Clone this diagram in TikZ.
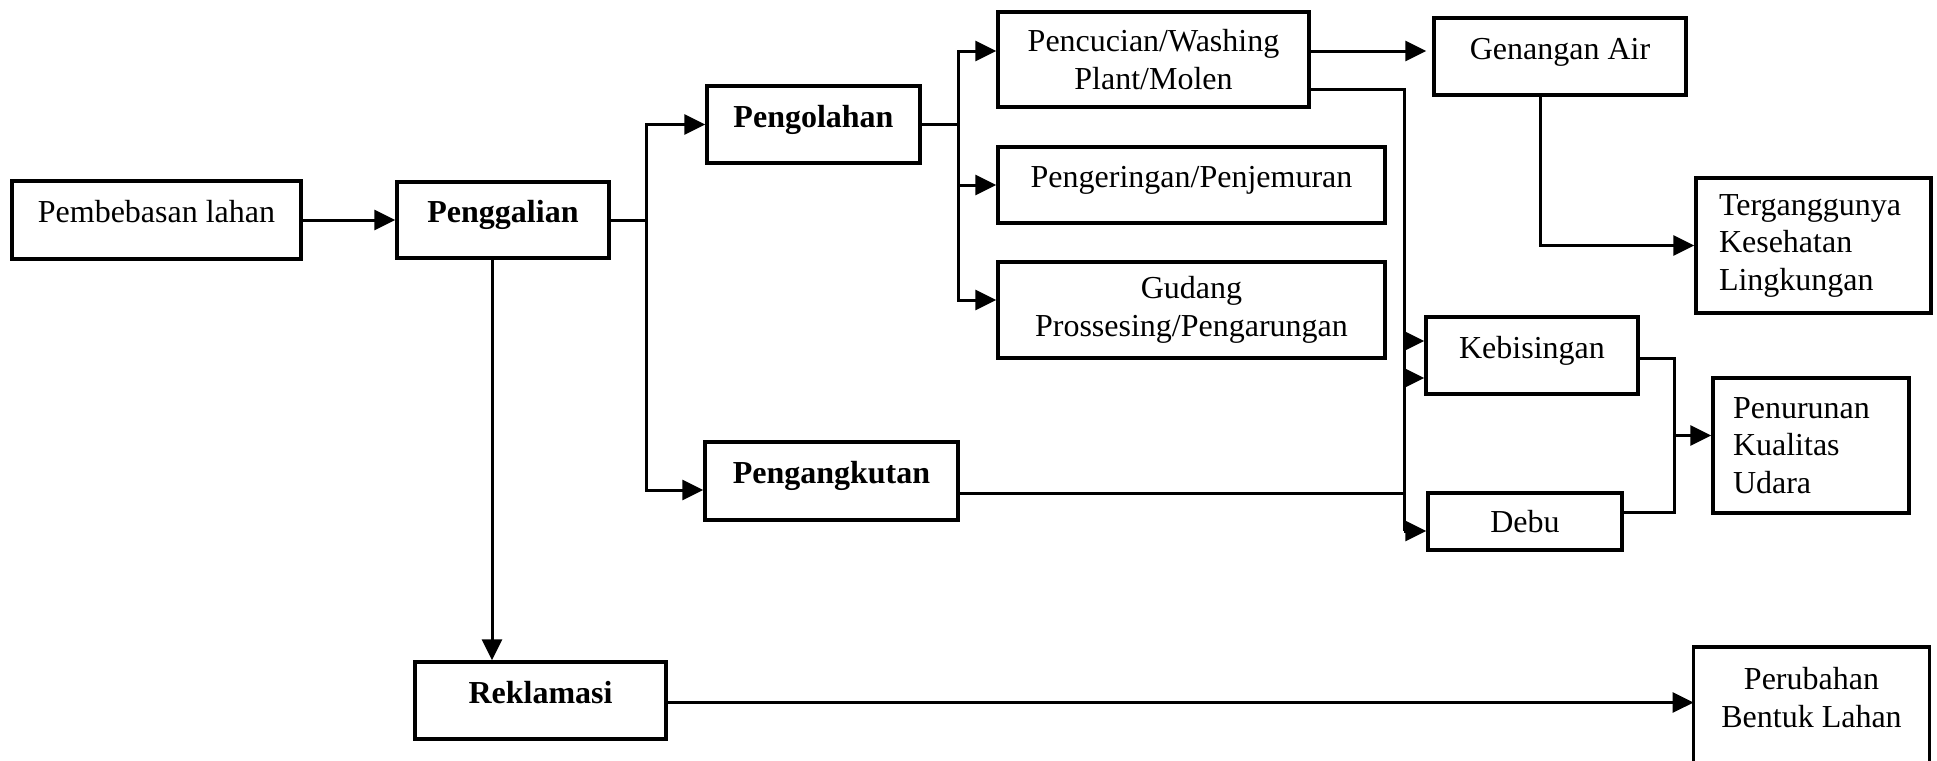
\documentclass[tikz,border=0pt]{standalone}
\usepackage{fontspec}
\setmainfont{Liberation Serif}
\usetikzlibrary{arrows.meta,calc}

\begin{document}
\begin{tikzpicture}[x=0.5pt,y=-0.5pt,
  every node/.style={font=\fontsize{16}{18.75}\selectfont},
  box/.style={draw, line width=1.7pt, inner sep=0pt, align=center},
  oneline/.style={text height=11pt, text depth=8.4pt},
  ln/.style={line width=1.5pt},
  arr/.style={ln, -{Triangle[length=10.5pt,width=10pt]}},
]
\useasboundingbox (0,0) rectangle (1937,760);
\clip (0,0) rectangle (1937,760);

% main process chain
\node[box, oneline, minimum width=144.5pt, minimum height=39pt] (pemb) at (156.5,220) {Pembebasan lahan};
\node[box, oneline, minimum width=106pt, minimum height=38pt] (pengg) at (503,220) {\bfseries Penggalian};
\node[box, oneline, minimum width=106.5pt, minimum height=38.5pt] (pengol) at (813.5,124.5) {\bfseries Pengolahan};
\node[box, oneline, minimum width=126.5pt, minimum height=39pt] (pengang) at (831.5,481) {\bfseries Pengangkutan};
\node[box, oneline, minimum width=125.5pt, minimum height=38.5pt] (reklam) at (540.5,700.5) {\bfseries Reklamasi};

% processing steps
\node[box, minimum width=155.5pt, minimum height=47.5pt] (pencuc) at (1153.5,59.5) {Pencucian/Washing\\Plant/Molen};
\node[box, oneline, minimum width=193.5pt, minimum height=38pt] (penger) at (1191.5,185) {Pengeringan/Penjemuran};
\node[box, minimum width=193.5pt, minimum height=48pt] (gudang) at (1191.5,310) {Gudang\\Prossesing/Pengarungan};

% impacts
\node[box, oneline, minimum width=126pt, minimum height=38.5pt] (genang) at (1560,56.5) {Genangan Air};
\node[box, align=left, text width=94.5pt, minimum width=117.5pt, minimum height=67.5pt] (tergang) at (1813.5,245.5) {Terganggunya\\Kesehatan\\Lingkungan};
\node[box, oneline, minimum width=106pt, minimum height=38.5pt] (kebis) at (1532,355.5) {Kebisingan};
\node[box, minimum width=97pt, minimum height=28.5pt] (debu) at (1525,521.5) {Debu};
\node[box, align=left, text width=78pt, minimum width=98pt, minimum height=67.5pt] (penur) at (1811,445.5) {Penurunan\\Kualitas\\Udara};
\node[inner sep=0pt, align=center, minimum width=117.5pt, minimum height=50pt, anchor=north] (perub) at (1811.5,647) {Perubahan\\Bentuk Lahan};
\draw[line width=1.7pt] ([yshift=-40pt]perub.south west) -- (perub.north west) -- (perub.north east) -- ([yshift=-40pt]perub.south east);

% junction points
\coordinate (j1) at (646,220);
\coordinate (j2) at (958,124.5);
\coordinate (bustop) at (1404,89);
\coordinate (busbot) at (1404,531);
\coordinate (j3) at (1674,358);
\coordinate (j4) at (1674,512);

% connectors
\draw[arr] (pemb.east) -- (pengg.west);
\draw[ln] (pengg.east) -- (j1);
\draw[arr] (j1) |- (pengol.west);
\draw[arr] (j1) |- ($(pengang.west)+(0,9)$);
\draw[arr] ([xshift=-5.5pt]pengg.south) -- ([xshift=-5.5pt]pengg.south |- reklam.north);
\draw[arr] ($(reklam.east)+(0,2)$) -- ($(reklam.east -| perub.west)+(0,2)$);

\draw[ln] (pengol.east) -- (j2);
\draw[arr] (j2) |- ($(pencuc.west)+(0,-8.5)$);
\draw[arr] (j2) |- (penger.west);
\draw[arr] (j2) |- ($(gudang.west)+(0,-10)$);

\draw[arr] ($(pencuc.east)+(0,-8.5)$) -- ($(genang.west)+(-6,-5.5)$);
\draw[ln] ($(pencuc.east)+(0,29.5)$) -- (bustop) -- (busbot);
\draw[ln] ($(pengang.east)+(0,12)$) -- ($(pengang.east -| bustop)+(0,12)$);
\draw[arr] (busbot) -- ($(debu.west)+(0,9.5)$);
\draw[arr] ($(kebis.west -| bustop)+(0,-14.5)$) -- ($(kebis.west)+(0,-14.5)$);
\draw[arr] ($(kebis.west -| bustop)+(0,22.5)$) -- ($(kebis.west)+(0,22.5)$);

\draw[arr] ($(genang.south)+(-20,0)$) |- (tergang.west);

\draw[ln] ($(kebis.east)+(0,2.5)$) -- (j3) -- (j4) -- ($(debu.east)+(0,-9.5)$);
\draw[arr] ($(penur.west -| j3)+(0,-10)$) -- ($(penur.west)+(0,-10)$);
\end{tikzpicture}
\end{document}
